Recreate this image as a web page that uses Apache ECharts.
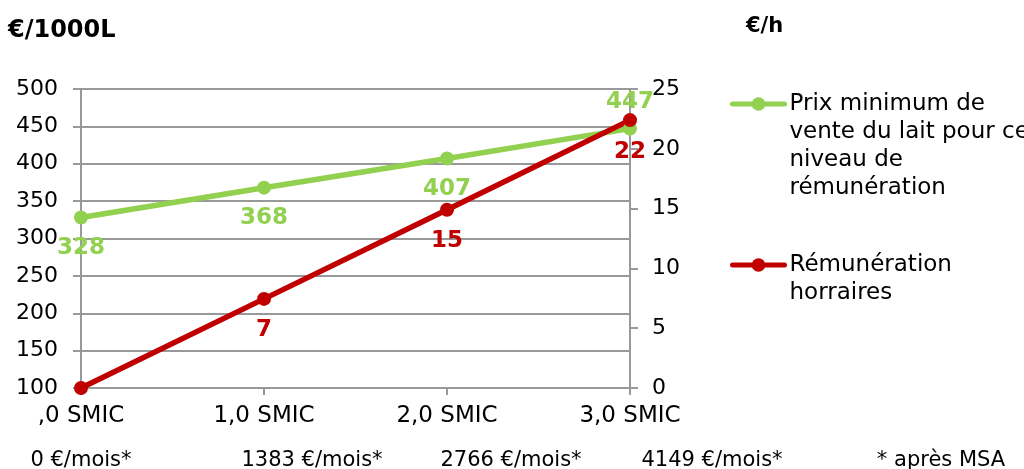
<!DOCTYPE html>
<html>
<head>
<meta charset="utf-8">
<script src="https://cdn.jsdelivr.net/npm/echarts@6/dist/echarts.min.js"></script>
<style>
html,body{margin:0;padding:0;background:#fff;}
#chart{width:1024px;height:469px;}
</style>
</head>
<body>
<div id="chart"></div>
<script>
var categories = [',0 SMIC', '1,0 SMIC', '2,0 SMIC', '3,0 SMIC'];
var prixValues = [328, 368, 407, 447];
var remunValues = [0, 7.45, 14.9, 22.4];
var seriesNames = ['Prix minimum de\nvente du lait pour ce\nniveau de\nrémunération', 'Rémunération\nhorraires'];
var leftAxisTitle = '€/1000L';
var rightAxisTitle = '€/h';
var incomeLabels = ['0 €/mois*', '1383 €/mois*', '2766 €/mois*', '4149 €/mois*'];
var footnote = '* après MSA';

var FONT = 'DejaVu Sans';
var GREEN = '#92D050';
var RED = '#C00000';
var GRID = '#999999';

var chart = echarts.init(document.getElementById('chart'));

// green: last label above the point
var prixData = prixValues.map(function (v, i) {
  if (i === prixValues.length - 1) return { value: v, label: { position: 'top', distance: 8 } };
  return v;
});
// red: no label on the zero point
var remunData = remunValues.map(function (v, i) {
  if (i === 0) return { value: v, label: { show: false } };
  return v;
});

// legend text: pad with empty lines so the icon sits on the first line
function legendText(name) {
  var n = name.split('\n').length;
  var pad = '';
  for (var k = 0; k < n - 1; k++) pad += '\n';
  return pad + name;
}

var incomeX = [81, 312, 511, 712];
var graphics = incomeLabels.map(function (t, i) {
  return { type: 'text', x: incomeX[i], y: 461,
    style: { text: t, font: '21px "' + FONT + '"', fill: '#000', align: 'center', verticalAlign: 'middle' } };
});
graphics.push({ type: 'text', x: 941, y: 461,
  style: { text: footnote, font: '21px "' + FONT + '"', fill: '#000', align: 'center', verticalAlign: 'middle' } });

var legendCommon = {
  orient: 'vertical', left: 730, padding: 0,
  itemWidth: 52, itemHeight: 17, itemGap: 0,
  lineStyle: { width: 5, cap: 'round' },
  formatter: legendText,
  textStyle: { fontFamily: FONT, fontSize: 23, lineHeight: 28, color: '#000' }
};

var option = {
  animation: false,
  backgroundColor: '#fff',
  title: [
    { text: leftAxisTitle, left: 8, top: 19, padding: 0,
      textStyle: { fontFamily: FONT, fontSize: 24, fontWeight: 'bold', color: '#000' } },
    { text: rightAxisTitle, left: 746, top: 16, padding: 0,
      textStyle: { fontFamily: FONT, fontSize: 21, fontWeight: 'bold', color: '#000' } }
  ],
  legend: [
    Object.assign({}, legendCommon, { data: [seriesNames[0]], top: 6 }),
    Object.assign({}, legendCommon, { data: [seriesNames[1]], top: 223 })
  ],
  grid: { left: 81, right: 394, top: 89, bottom: 81, containLabel: false },
  xAxis: {
    type: 'category', data: categories, boundaryGap: false,
    axisLine: { show: true, lineStyle: { color: GRID, width: 2 } },
    axisTick: { show: true, length: 7, alignWithLabel: true, lineStyle: { color: GRID, width: 2 } },
    axisLabel: { color: '#000', fontFamily: FONT, fontSize: 23, margin: 17 },
    splitLine: { show: false }
  },
  yAxis: [
    {
      type: 'value', min: 100, max: 500, interval: 50, position: 'left',
      axisLine: { show: true, lineStyle: { color: GRID, width: 2 } },
      axisTick: { show: true, length: 8, lineStyle: { color: GRID, width: 2 } },
      axisLabel: { color: '#000', fontFamily: FONT, fontSize: 22, margin: 23 },
      splitLine: { show: true, lineStyle: { color: GRID, width: 2 } }
    },
    {
      type: 'value', min: 0, max: 25, interval: 5, position: 'right',
      axisLine: { show: true, lineStyle: { color: GRID, width: 2 } },
      axisTick: { show: true, length: 8, lineStyle: { color: GRID, width: 2 } },
      axisLabel: { color: '#000', fontFamily: FONT, fontSize: 22, margin: 22 },
      splitLine: { show: false }
    }
  ],
  series: [
    {
      name: seriesNames[0], type: 'line', yAxisIndex: 0,
      data: prixData,
      symbol: 'circle', symbolSize: 14,
      lineStyle: { color: GREEN, width: 5.5 },
      itemStyle: { color: GREEN },
      label: { show: true, position: 'bottom', distance: 12, color: GREEN,
        fontFamily: FONT, fontSize: 23, fontWeight: 'bold' }
    },
    {
      name: seriesNames[1], type: 'line', yAxisIndex: 1,
      data: remunData,
      symbol: 'circle', symbolSize: 14,
      lineStyle: { color: RED, width: 5.5 },
      itemStyle: { color: RED },
      label: { show: true, position: 'bottom', distance: 13, color: RED,
        fontFamily: FONT, fontSize: 23, fontWeight: 'bold',
        formatter: function (p) { return Math.round(p.value); } }
    }
  ],
  graphic: graphics
};
chart.setOption(option);
</script>
</body>
</html>
